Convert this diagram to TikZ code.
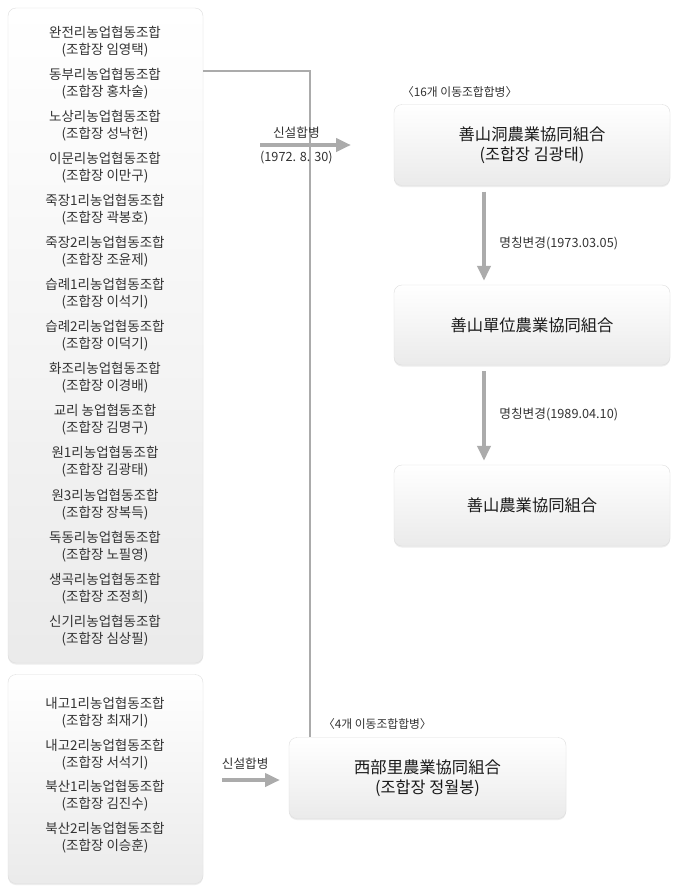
\documentclass[tikz,border=0pt]{standalone}
\usepackage{fontspec}
\setmainfont{Noto Sans CJK KR}
\usetikzlibrary{arrows.meta, shadows}

\definecolor{linegray}{HTML}{ABABAB}
\definecolor{txtgray}{HTML}{333333}

\begin{document}
\begin{tikzpicture}[
        x=1pt, y=-1pt,
        panel/.style={
            draw=black!13,
            rounded corners=8pt,
            top color=white,
            bottom color=black!8,
            drop shadow={opacity=0.14, shadow xshift=0pt, shadow yshift=-1.5pt}
        },
        member/.style={
            font=\fontsize{13.5}{17}\selectfont,
            text=txtgray,
            align=center
        },
        union/.style={
            panel,
            minimum width=276pt,
            minimum height=81pt,
            align=center,
            font=\fontsize{16.3}{20}\selectfont,
            text=black!90
        },
        flow/.style={
            draw=linegray,
            line width=4pt,
            -{Triangle[length=15pt, width=13pt]}
        },
        link/.style={draw=linegray, line width=1.5pt},
        note/.style={font=\fontsize{12.7}{14}\selectfont, text=txtgray},
        mergecap/.style={font=\fontsize{11.8}{14}\selectfont, text=txtgray, anchor=south west, inner sep=0pt}
    ]
        \useasboundingbox (0,0) rectangle (675,895);
        \fill[white] (0,0) rectangle (675,895);

        % Member groups
        \node[panel, minimum width=195pt, minimum height=655pt] (grpA) at (105.5,335.5) {};
        \node[panel, minimum width=195pt, minimum height=209pt] (grpB) at (105.5,779) {};

        \foreach \nm/\ch [count=\i] in {
            완전리농업협동조합/임영택, 동부리농업협동조합/홍차술,
            노상리농업협동조합/성낙헌, 이문리농업협동조합/이만구,
            죽장1리농업협동조합/곽봉호, 죽장2리농업협동조합/조윤제,
            습례1리농업협동조합/이석기, 습례2리농업협동조합/이덕기,
            화조리농업협동조합/이경배, 교리 농업협동조합/김명구,
            원1리농업협동조합/김광태, 원3리농업협동조합/장복득,
            독동리농업협동조합/노필영, 생곡리농업협동조합/조정희,
            신기리농업협동조합/심상필}
            \node[member] (m\i) at (105,-0.6+42.07*\i) {\nm\\(조합장 \ch)};

        \foreach \nm/\ch [count=\i] in {
            내고1리농업협동조합/최재기, 내고2리농업협동조합/서석기,
            북산1리농업협동조합/김진수, 북산2리농업협동조합/이승훈}
            \node[member] (n\i) at (105,670.8+41.7*\i) {\nm\\(조합장 \ch)};

        % Merged unions
        \node[union] (sdong) at (532,145) {善山洞農業協同組合\\(조합장 김광태)};
        \node[union, minimum height=80pt] (sdanwi) at (532,325) {善山單位農業協同組合};
        \node[union] (snong) at (532,505.5) {善山農業協同組合};
        \node[union, minimum width=277pt] (sobu) at (427.5,778) {西部里農業協同組合\\(조합장 정월봉)};

        \node[mergecap] (capA) at ([xshift=8pt, yshift=7pt]sdong.north west) {〈16개 이동조합합병〉};
        \node[mergecap] (capB) at ([xshift=34pt, yshift=8pt]sobu.north west) {〈4개 이동조합합병〉};

        % Link from the first group
        \coordinate (lk) at (310,71);
        \draw[link] (grpA.east |- lk) -| (sobu.north -| lk);

        % Merge arrows
        \coordinate (a1s) at (260,145);
        \coordinate (a1e) at (351,145);
        \draw[flow] (a1s) -- (a1e)
            node[note, pos=0.4, above=1pt] {신설합병}
            node[note, pos=0.4, below=1pt] {(1972. 8. 30)};

        \coordinate (a2s) at (222,780);
        \coordinate (a2e) at (280,780);
        \draw[flow] (a2s) -- (a2e)
            node[note, pos=0.4, above=5pt] {신설합병};

        % Name changes
        \coordinate (ax) at (484,0);
        \draw[flow, shorten <=6pt, shorten >=4pt] (sdong.south -| ax) -- (sdanwi.north -| ax)
            node[note, midway, right=10pt, yshift=-8pt] {명칭변경(1973.03.05)};
        \draw[flow, shorten <=6pt, shorten >=4pt] (sdanwi.south -| ax) -- (snong.north -| ax)
            node[note, midway, right=10pt, yshift=1pt] {명칭변경(1989.04.10)};
    \end{tikzpicture}
\end{document}
